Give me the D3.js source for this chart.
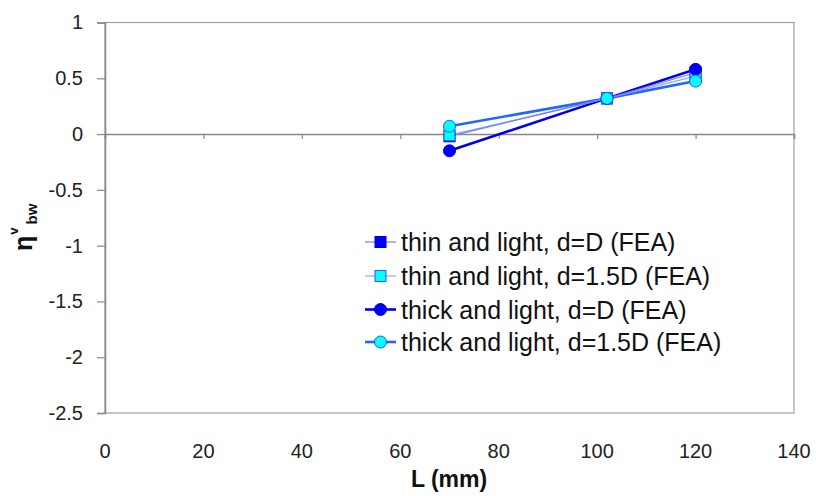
<!DOCTYPE html>
<html>
<head>
<meta charset="utf-8">
<script src="https://cdn.jsdelivr.net/npm/d3@7"></script>
<style>
  body { margin: 0; background: #fff; }
  svg { font-family: "Liberation Sans", Arial, sans-serif; }
</style>
</head>
<body>
<svg id="chart" width="816" height="496"></svg>
<script>
// Span length L (mm) for each analysed case
const lengths = [70, 102, 120];

// Normalised bending parameter for each beam configuration
const thinLightD    = [-0.02, 0.32, 0.55];
const thinLight15D  = [-0.01, 0.32, 0.52];
const thickLightD   = [-0.15, 0.32, 0.58];
const thickLight15D = [0.07, 0.32, 0.475];

const seriesNames = [
  "thin and light, d=D (FEA)",
  "thin and light, d=1.5D (FEA)",
  "thick and light, d=D (FEA)",
  "thick and light, d=1.5D (FEA)"
];

const xTicks = [0, 20, 40, 60, 80, 100, 120, 140];
const yTicks = [1, 0.5, 0, -0.5, -1, -1.5, -2, -2.5];

const series = [
  { name: seriesNames[0], values: thinLightD,    shape: "square", fill: "#0000ff", stroke: "#0000cc", line: "#6f7fff", width: 1.2 },
  { name: seriesNames[1], values: thinLight15D,  shape: "square", fill: "#00ffff", stroke: "#3355ff", line: "#8fa8ff", width: 1.2 },
  { name: seriesNames[2], values: thickLightD,   shape: "circle", fill: "#0000ff", stroke: "#0000cc", line: "#0000ee", width: 2.6 },
  { name: seriesNames[3], values: thickLight15D, shape: "circle", fill: "#00ffff", stroke: "#2255ff", line: "#2266ff", width: 2.6 }
];

const svg = d3.select("#chart");
const plot = { left: 105, right: 794, top: 22.5, bottom: 413 };

const x = d3.scaleLinear().domain([0, 140]).range([plot.left, plot.right]);
const y = d3.scaleLinear().domain([-2.5, 1]).range([plot.bottom, plot.top]);

// Plot frame
svg.append("rect")
  .attr("x", plot.left).attr("y", plot.top)
  .attr("width", plot.right - plot.left).attr("height", plot.bottom - plot.top)
  .attr("fill", "none").attr("stroke", "#a0a0a0").attr("stroke-width", 1.2);

// Y axis with outward ticks
const yAxis = svg.append("g")
  .attr("transform", `translate(${plot.left},0)`)
  .call(d3.axisLeft(y).tickValues(yTicks).tickSize(8).tickPadding(14)
    .tickFormat(d => String(d)));
yAxis.select(".domain").attr("stroke", "#888").attr("stroke-width", 1.5);
yAxis.selectAll(".tick line").attr("stroke", "#888").attr("stroke-width", 1.2);
yAxis.selectAll(".tick text").attr("font-size", 20).attr("fill", "#222")
  .attr("font-family", "Liberation Sans, Arial, sans-serif");

// X axis drawn along the zero line, ticks hanging below it
const xAxis = svg.append("g")
  .attr("transform", `translate(0,${y(0)})`)
  .call(d3.axisBottom(x).tickValues(xTicks).tickSize(5).tickFormat(""));
xAxis.select(".domain").attr("stroke", "#888").attr("stroke-width", 1.5);
xAxis.selectAll(".tick line").attr("stroke", "#888").attr("stroke-width", 1.2);

// X tick labels sit below the plot frame
svg.append("g").selectAll("text").data(xTicks).join("text")
  .attr("x", d => x(d)).attr("y", 458)
  .attr("text-anchor", "middle").attr("font-size", 20).attr("fill", "#222")
  .text(d => d);

// Axis titles
svg.append("text")
  .attr("x", 449).attr("y", 487)
  .attr("text-anchor", "middle").attr("font-size", 23).attr("font-weight", "bold")
  .attr("fill", "#111")
  .text("L (mm)");

const yTitle = svg.append("text")
  .attr("transform", "translate(32,251) rotate(-90)")
  .attr("font-size", 25).attr("font-weight", "bold").attr("fill", "#111");
yTitle.append("tspan").text("η");
yTitle.append("tspan").attr("dy", -14).attr("dx", 1).attr("font-size", 13).text("v");
yTitle.append("tspan").attr("dy", 19).attr("dx", 3).attr("font-size", 15).text("bw");

// Series lines and markers
const line = d3.line().x((d, i) => x(lengths[i])).y(d => y(d));

function drawMarker(sel, s, cx, cy) {
  if (s.shape === "square") {
    sel.append("rect")
      .attr("x", cx - 5.5).attr("y", cy - 5.5).attr("width", 11).attr("height", 11)
      .attr("fill", s.fill).attr("stroke", s.stroke).attr("stroke-width", 1);
  } else {
    sel.append("circle")
      .attr("cx", cx).attr("cy", cy).attr("r", 6)
      .attr("fill", s.fill).attr("stroke", s.stroke).attr("stroke-width", 1);
  }
}

// Lines first, then markers on top
[3, 2, 1, 0].forEach(k => {
  const s = series[k];
  svg.append("path").datum(s.values)
    .attr("d", line).attr("fill", "none")
    .attr("stroke", s.line).attr("stroke-width", s.width);
});
[0, 1, 2, 3].forEach(k => {
  const s = series[k];
  const g = svg.append("g");
  s.values.forEach((v, i) => drawMarker(g, s, x(lengths[i]), y(v)));
});

// Legend
const legend = svg.append("g");
const rowY = [242, 276, 309.5, 342];
series.forEach((s, i) => {
  const g = legend.append("g");
  g.append("line")
    .attr("x1", 365).attr("x2", 396).attr("y1", rowY[i]).attr("y2", rowY[i])
    .attr("stroke", s.line).attr("stroke-width", s.width);
  drawMarker(g, s, 380.5, rowY[i]);
  g.append("text")
    .attr("x", 401).attr("y", rowY[i] + 9)
    .attr("font-size", 25).attr("fill", "#111")
    .text(s.name);
});
</script>
</body>
</html>
